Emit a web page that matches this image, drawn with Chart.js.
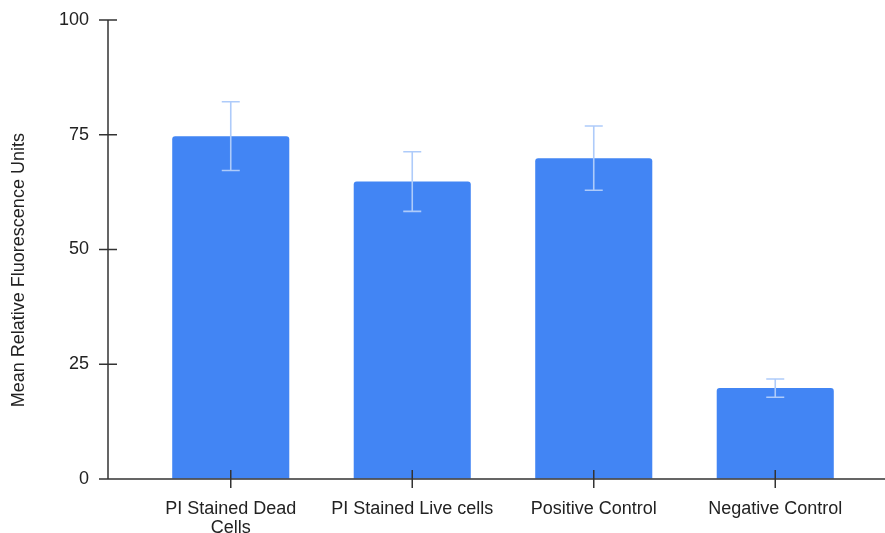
<!DOCTYPE html>
<html>
<head>
<meta charset="utf-8">
<script src="https://cdn.jsdelivr.net/npm/chart.js@4/dist/chart.umd.min.js"></script>
<style>
html,body{margin:0;padding:0;background:#fff;}
#wrap{width:885px;height:533px;position:relative;}
</style>
</head>
<body>
<div id="wrap"><canvas id="c" width="885" height="533"></canvas></div>
<script>
const categories = [["PI Stained Dead","Cells"], "PI Stained Live cells", "Positive Control", "Negative Control"];
const meanValues = [74.7, 64.8, 69.9, 19.8];
const errorValues = [7.5, 6.5, 7.0, 2.0];
const yTicks = [0, 25, 50, 75, 100];
const yTitle = 'Mean Relative Fluorescence Units';

const axisColor = '#333333';
const FONT = '"Liberation Sans", Arial, sans-serif';

const axesPlugin = {
  id: 'axesPlugin',
  afterDatasetsDraw(chart) {
    const ctx = chart.ctx;
    const x = chart.scales.x, y = chart.scales.y;
    ctx.save();
    ctx.strokeStyle = '#aecbfa';
    ctx.lineWidth = 1.6;
    meanValues.forEach((v, i) => {
      const cx = x.getPixelForValue(i);
      const yt = y.getPixelForValue(v + errorValues[i]);
      const yb = y.getPixelForValue(v - errorValues[i]);
      ctx.beginPath();
      ctx.moveTo(cx, yt); ctx.lineTo(cx, yb);
      ctx.moveTo(cx - 9, yt); ctx.lineTo(cx + 9, yt);
      ctx.moveTo(cx - 9, yb); ctx.lineTo(cx + 9, yb);
      ctx.stroke();
    });
    ctx.restore();
  },
  afterDraw(chart) {
    const ctx = chart.ctx;
    const x = chart.scales.x, y = chart.scales.y;
    const axX = 108;
    const y0 = y.getPixelForValue(0);
    const yTop = y.getPixelForValue(100);
    ctx.save();
    ctx.strokeStyle = axisColor;
    ctx.lineWidth = 1.5;
    ctx.beginPath();
    ctx.moveTo(axX, yTop); ctx.lineTo(axX, y0);
    yTicks.forEach(t => {
      const py = y.getPixelForValue(t);
      ctx.moveTo(axX - 9, py); ctx.lineTo(axX + 9, py);
    });
    ctx.moveTo(axX - 9, y0); ctx.lineTo(chart.width, y0);
    categories.forEach((c, i) => {
      const px = x.getPixelForValue(i);
      ctx.moveTo(px, y0 - 9); ctx.lineTo(px, y0 + 9);
    });
    ctx.stroke();
    // y axis title
    ctx.translate(19, y.getPixelForValue(45.5));
    ctx.rotate(-Math.PI / 2);
    ctx.fillStyle = '#222';
    ctx.font = '18px ' + FONT;
    ctx.textAlign = 'center';
    ctx.textBaseline = 'middle';
    ctx.fillText(yTitle, 0, 0);
    ctx.restore();
  }
};

new Chart(document.getElementById('c'), {
  type: 'bar',
  data: {
    labels: categories,
    datasets: [{
      data: meanValues,
      backgroundColor: '#4285f4',
      borderWidth: 0,
      borderRadius: {topLeft: 3, topRight: 3, bottomLeft: 0, bottomRight: 0},
      borderSkipped: false,
      categoryPercentage: 1.0,
      barPercentage: 0.645
    }]
  },
  options: {
    responsive: false,
    animation: false,
    devicePixelRatio: 1,
    layout: { padding: { left: 0, right: 19, top: 20, bottom: 0 } },
    plugins: { legend: { display: false }, tooltip: { enabled: false } },
    scales: {
      x: {
        grid: { display: false, drawTicks: false },
        border: { display: false },
        ticks: {
          color: '#222',
          font: { family: FONT, size: 18, lineHeight: 1.06 },
          padding: 20,
          maxRotation: 0,
          autoSkip: false
        },
        afterFit(scale) { scale.height = 54; }
      },
      y: {
        min: 0,
        max: 100,
        afterBuildTicks(scale) { scale.ticks = yTicks.map(v => ({ value: v })); },
        grid: { display: true, drawOnChartArea: false, drawTicks: true, tickLength: 47, tickColor: 'rgba(0,0,0,0)' },
        border: { display: false },
        ticks: {
          color: '#222',
          font: { family: FONT, size: 18 },
          padding: 4
        },
        title: { display: false },
        afterFit(scale) { scale.width = 140; }
      }
    }
  },
  plugins: [axesPlugin]
});
</script>
</body>
</html>
